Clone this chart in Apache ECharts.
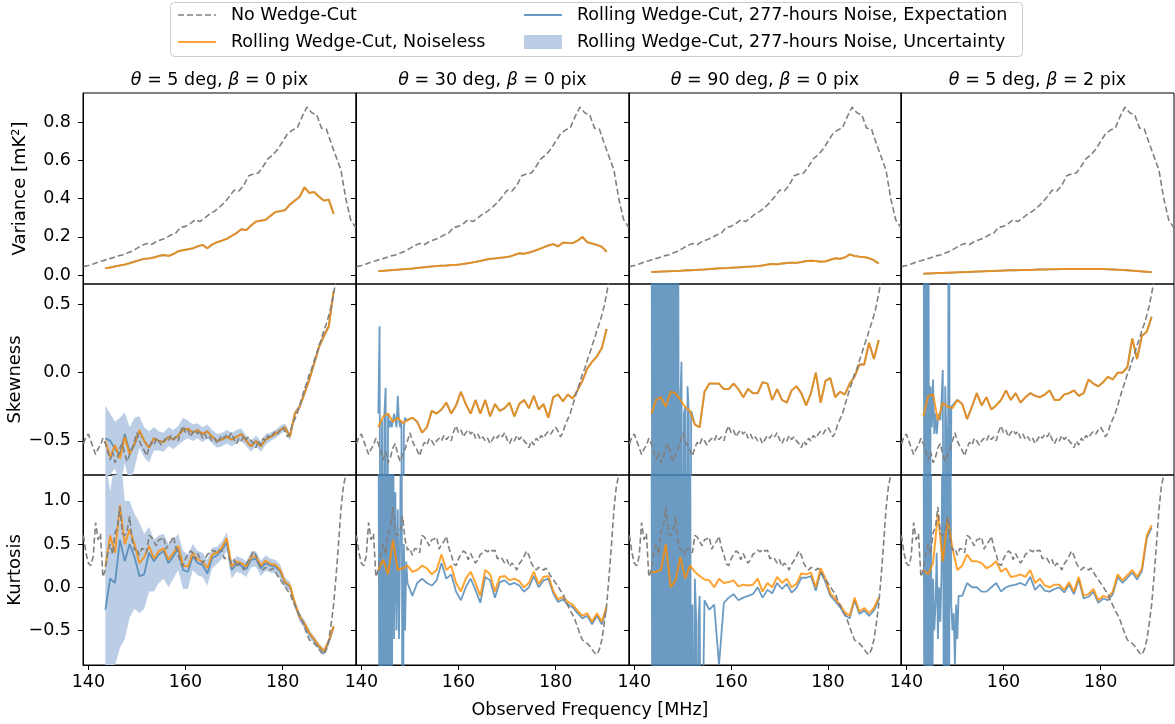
<!DOCTYPE html>
<html>
<head>
<meta charset="utf-8">
<script src="https://cdn.jsdelivr.net/npm/echarts@6.0.0/dist/echarts.min.js"></script>
<style>
  html, body { margin: 0; padding: 0; background: #fff; }
  #chart { width: 1175px; height: 724px; }
</style>
</head>
<body>
<div id="chart"></div>
<script>
// frequency grids [MHz]
const FREQ = [139,140,141,142,143,144,145,146,147,148,149,150,151,152,153,154,155,156,157,158,159,160,161,162,163,164,165,166,167,168,169,170,171,172,173,174,175,176,177,178,179,180,181,182,183,184,185,186,187,188,189,190,191,192,193,194,195];
const FREQ_HALF = [
  139,139.5,140,140.5,141,141.5,142,142.5,143,143.5,
  144,144.5,145,145.5,146,146.5,147,147.5,148,148.5,
  149,149.5,150,150.5,151,151.5,152,152.5,153,153.5,
  154,154.5,155,155.5,156,156.5,157,157.5,158,158.5,
  159,159.5,160,160.5,161,161.5,162,162.5,163,163.5,
  164,164.5,165,165.5,166,166.5,167,167.5,168,168.5,
  169,169.5,170,170.5,171,171.5,172,172.5,173,173.5,
  174,174.5,175,175.5,176,176.5,177,177.5,178,178.5,
  179,179.5,180,180.5,181,181.5,182,182.5,183,183.5,
  184,184.5,185,185.5,186,186.5,187,187.5,188,188.5,
  189,189.5,190,190.5,191,191.5,192,192.5,193,193.5,
  194,194.5,195];
const CUT_FREQ = [143.5,144.5,145.5,146.5,147.5,148.5,149.5,150.5,151.5,152.5,153.5,154.5,155.5,156.5,157.5,158.5,159.5,160.5,161.5,162.5,163.5,164.5,165.5,166.5,167.5,168.5,169.5,170.5,171.5,172.5,173.5,174.5,175.5,176.5,177.5,178.5,179.5,180.5,181.5,182.5,183.5,184.5,185.5,186.5,187.5,188.5,189.5,190.5];
const SPIKE_FREQ = [143.5,143.75,144,144.25,144.5,144.75,145,145.25,145.5,145.75,146,146.25,146.5,146.75,147,147.25,147.5,147.75,148,148.25,148.5,148.75,149,149.25,149.5,149.75,150,150.25,150.5,150.75,151,151.25,151.5,151.75,152,152.25,152.5,152.75,153,153.25,153.5,153.75];

// no wedge-cut (same in every column)
const VAR_NOCUT = [0.044,0.05,0.058,0.068,0.075,0.083,0.09,0.1,0.105,0.115,0.125,0.14,0.155,0.165,0.16,0.175,0.185,0.195,0.21,0.22,0.25,0.255,0.27,0.29,0.28,0.3,0.32,0.335,0.355,0.38,0.41,0.445,0.44,0.47,0.52,0.53,0.535,0.57,0.61,0.63,0.66,0.7,0.74,0.76,0.77,0.83,0.88,0.85,0.84,0.77,0.765,0.69,0.62,0.55,0.4,0.29,0.25];
const SKEW_NOCUT = [
  -0.52,-0.47,-0.45,-0.5,-0.55,-0.6,-0.56,-0.53,-0.48,-0.52,
  -0.58,-0.64,-0.58,-0.66,-0.62,-0.55,-0.52,-0.6,-0.65,-0.6,
  -0.56,-0.5,-0.44,-0.5,-0.54,-0.57,-0.61,-0.55,-0.51,-0.53,
  -0.48,-0.5,-0.53,-0.5,-0.48,-0.5,-0.46,-0.49,-0.47,-0.5,
  -0.43,-0.39,-0.44,-0.42,-0.47,-0.44,-0.42,-0.45,-0.43,-0.48,
  -0.45,-0.49,-0.47,-0.5,-0.48,-0.52,-0.49,-0.46,-0.48,-0.45,
  -0.47,-0.44,-0.49,-0.52,-0.48,-0.5,-0.46,-0.49,-0.47,-0.5,
  -0.52,-0.55,-0.5,-0.53,-0.48,-0.5,-0.46,-0.48,-0.45,-0.43,
  -0.45,-0.42,-0.4,-0.43,-0.47,-0.44,-0.38,-0.34,-0.3,-0.24,
  -0.18,-0.12,-0.07,-0.01,0.03,0.09,0.14,0.2,0.25,0.31,
  0.36,0.42,0.49,0.58,0.68,0.77,0.86,0.95,1.04,1.12,
  1.2,1.3,1.4];
const KURT_NOCUT = [
  0.6,0.4,0.28,0.25,0.36,0.75,0.55,0.62,0.12,0.2,
  0.4,0.5,0.38,0.63,0.7,0.93,0.62,0.6,0.66,0.82,
  0.55,0.43,0.45,0.37,0.45,0.44,0.4,0.6,0.58,0.53,
  0.48,0.55,0.56,0.58,0.44,0.5,0.53,0.59,0.46,0.38,
  0.27,0.25,0.33,0.38,0.42,0.4,0.32,0.39,0.33,0.28,
  0.32,0.38,0.4,0.43,0.41,0.44,0.42,0.43,0.33,0.35,
  0.33,0.28,0.32,0.24,0.28,0.25,0.2,0.27,0.31,0.36,
  0.42,0.37,0.28,0.23,0.2,0.23,0.22,0.2,0.22,0.18,
  0.13,0.09,0.05,0.01,-0.04,-0.07,-0.15,-0.21,-0.27,-0.32,
  -0.38,-0.46,-0.54,-0.61,-0.63,-0.65,-0.68,-0.72,-0.76,-0.78,
  -0.72,-0.61,-0.42,-0.2,0.13,0.5,0.9,1.17,1.3,1.45,
  1.6,1.75,1.9];

// rolling wedge-cut, noiseless (columns 1..4)
const VAR_ORANGE_1 = [0.035,0.04,0.045,0.05,0.055,0.062,0.07,0.078,0.085,0.087,0.092,0.1,0.105,0.1,0.11,0.125,0.13,0.135,0.14,0.15,0.158,0.14,0.16,0.172,0.18,0.19,0.205,0.22,0.24,0.235,0.26,0.28,0.285,0.29,0.31,0.33,0.335,0.34,0.37,0.39,0.41,0.46,0.43,0.435,0.41,0.39,0.395,0.32];
const VAR_ORANGE_2 = [0.02,0.022,0.024,0.026,0.028,0.03,0.032,0.034,0.037,0.04,0.042,0.045,0.047,0.049,0.05,0.052,0.053,0.056,0.06,0.064,0.069,0.074,0.08,0.085,0.087,0.09,0.093,0.097,0.105,0.114,0.112,0.118,0.125,0.135,0.145,0.155,0.162,0.15,0.17,0.168,0.167,0.18,0.2,0.172,0.165,0.158,0.148,0.122];
const VAR_ORANGE_3 = [0.016,0.017,0.018,0.019,0.02,0.021,0.022,0.024,0.025,0.026,0.028,0.029,0.031,0.033,0.035,0.036,0.037,0.039,0.04,0.042,0.044,0.045,0.047,0.05,0.055,0.058,0.056,0.06,0.063,0.065,0.064,0.068,0.073,0.075,0.073,0.07,0.072,0.08,0.088,0.085,0.092,0.108,0.1,0.096,0.094,0.088,0.078,0.06];
const VAR_ORANGE_4 = [0.007,0.008,0.009,0.01,0.011,0.012,0.013,0.014,0.015,0.016,0.017,0.018,0.019,0.02,0.021,0.022,0.023,0.024,0.025,0.025,0.026,0.027,0.027,0.028,0.029,0.029,0.03,0.03,0.031,0.031,0.031,0.032,0.032,0.032,0.032,0.032,0.032,0.031,0.03,0.029,0.028,0.027,0.025,0.023,0.021,0.019,0.017,0.015];

const SKEW_ORANGE_1 = [-0.5,-0.62,-0.53,-0.63,-0.47,-0.6,-0.52,-0.42,-0.5,-0.55,-0.48,-0.5,-0.51,-0.47,-0.49,-0.46,-0.42,-0.41,-0.44,-0.42,-0.45,-0.43,-0.47,-0.5,-0.49,-0.47,-0.49,-0.47,-0.45,-0.5,-0.54,-0.5,-0.54,-0.49,-0.47,-0.45,-0.42,-0.4,-0.47,-0.3,-0.25,-0.15,-0.05,0.07,0.19,0.27,0.34,0.6];
const SKEW_ORANGE_2 = [-0.4,-0.32,-0.3,-0.36,-0.33,-0.37,-0.35,-0.33,-0.36,-0.44,-0.4,-0.28,-0.3,-0.27,-0.22,-0.3,-0.24,-0.14,-0.23,-0.3,-0.2,-0.3,-0.2,-0.32,-0.23,-0.28,-0.26,-0.22,-0.32,-0.23,-0.2,-0.26,-0.17,-0.27,-0.23,-0.33,-0.18,-0.16,-0.21,-0.16,-0.19,-0.13,-0.06,0.03,0.08,0.12,0.18,0.32];
const SKEW_ORANGE_3 = [-0.3,-0.2,-0.18,-0.25,-0.14,-0.15,-0.2,-0.25,-0.28,-0.38,-0.4,-0.14,-0.08,-0.08,-0.08,-0.12,-0.12,-0.08,-0.12,-0.18,-0.12,-0.15,-0.15,-0.07,-0.08,-0.2,-0.12,-0.2,-0.22,-0.13,-0.1,-0.15,-0.24,-0.15,0.0,-0.22,-0.06,-0.04,-0.18,-0.14,-0.16,-0.08,-0.03,0.06,0.06,0.22,0.1,0.24];
const SKEW_ORANGE_4 = [-0.32,-0.17,-0.16,-0.35,-0.22,-0.25,-0.26,-0.2,-0.23,-0.34,-0.25,-0.15,-0.24,-0.18,-0.27,-0.24,-0.2,-0.13,-0.2,-0.15,-0.22,-0.18,-0.15,-0.17,-0.18,-0.16,-0.13,-0.2,-0.2,-0.16,-0.15,-0.13,-0.17,-0.15,-0.05,-0.08,-0.1,-0.07,-0.03,-0.05,0.0,0.0,0.04,0.25,0.1,0.27,0.3,0.41];

const KURT_ORANGE_1 = [0.24,0.6,0.4,0.95,0.5,0.67,0.5,0.28,0.35,0.48,0.33,0.42,0.45,0.32,0.4,0.48,0.25,0.24,0.4,0.32,0.3,0.22,0.38,0.4,0.46,0.57,0.24,0.3,0.28,0.24,0.35,0.36,0.25,0.31,0.27,0.26,0.2,0.06,0.02,-0.18,-0.34,-0.42,-0.53,-0.6,-0.68,-0.74,-0.62,-0.45];
const KURT_ORANGE_2 = [0.2,0.32,0.15,0.55,0.2,0.22,0.25,0.18,0.2,0.25,0.22,0.15,0.2,0.38,0.2,0.25,0.05,-0.05,0.1,0.18,0.05,-0.1,0.2,0.15,-0.05,0.12,0.13,0.08,0.1,0.07,0.0,0.05,0.18,0.04,0.12,0.13,-0.04,-0.14,-0.11,-0.17,-0.2,-0.27,-0.33,-0.3,-0.4,-0.3,-0.4,-0.22];
const KURT_ORANGE_3 = [0.17,0.18,0.2,0.5,0.0,0.08,0.35,0.1,0.25,0.18,0.13,0.09,0.08,0.0,0.1,0.05,0.06,0.08,0.01,0.03,0.02,0.03,0.1,-0.05,0.05,0.0,0.12,0.05,0.1,0.0,0.04,0.16,0.15,0.17,0.0,0.22,0.1,-0.07,-0.13,-0.2,-0.29,-0.33,-0.12,-0.28,-0.24,-0.3,-0.24,-0.12];
const KURT_ORANGE_4 = [0.2,0.15,0.28,0.85,0.3,0.8,0.45,0.2,0.25,0.38,0.3,0.3,0.28,0.22,0.25,0.3,0.18,0.22,0.12,0.13,0.15,0.12,0.2,0.05,0.1,0.02,0.0,0.03,0.03,-0.03,0.06,-0.05,0.12,-0.1,-0.08,-0.02,-0.15,-0.1,-0.12,-0.05,0.15,0.08,0.14,0.2,0.12,0.22,0.6,0.72];

// 277-hours noise, expectation: off-scale spikes on SPIKE_FREQ, then values on CUT_FREQ (right-aligned)
const SKEW_BLUE_1 = [-0.48,-0.5,-0.56,-0.6,-0.45,-0.58,-0.53,-0.43,-0.5,-0.55,-0.48,-0.5,-0.51,-0.47,-0.49,-0.46,-0.42,-0.41,-0.44,-0.42,-0.45,-0.43,-0.47,-0.5,-0.49,-0.47,-0.49,-0.47,-0.45,-0.5,-0.54,-0.5,-0.54,-0.49,-0.47,-0.45,-0.42,-0.4,-0.47,-0.3,-0.25,-0.15,-0.05,0.07,0.19,0.27,0.34,0.6];
const SKEW_SPIKES_2 = [-0.3,0.34,-3,-0.35,-3,-0.3,-0.11,-3,-0.3,-0.4,-0.35,-0.4,-0.35,-0.3,-0.35,-0.4,-0.17,-0.35,-0.4,-0.35,-3,-0.4,-0.33,-0.35];
const SKEW_SPIKES_3 = [3,-3,3,-3,3,-3,3,-3,3,-3,3,-3,3,-3,3,-3,3,-3,3,-3,3,-3,3,-3,-0.2,0.08,-3,-0.3,-0.25,-3,-0.1,-0.3,-3,-0.28];
const SKEW_SPIKES_4 = [3,-3,3,-3,3,-3,-0.1,-0.4,-0.05,-0.45,-0.3,-0.45,-0.35,-0.3,-0.35,-0.2,0.02,-3,-0.1,-0.45,-3,3,-3,-0.25];

const KURT_BLUE_1 = [-0.26,0.1,0.05,0.55,0.3,0.5,0.35,0.13,0.15,0.4,0.3,0.38,0.42,0.28,0.36,0.45,0.2,0.18,0.36,0.28,0.26,0.16,0.34,0.37,0.43,0.52,0.2,0.27,0.25,0.21,0.32,0.33,0.22,0.28,0.25,0.24,0.18,0.05,0.01,-0.19,-0.35,-0.43,-0.54,-0.61,-0.69,-0.75,-0.63,-0.46];
const KURT_SPIKES_2 = [3,-3,3,-3,3,-3,3,-3,3,-3,3,-3,3,-0.6,1.1,-0.5,0.9,-0.6,0.7,3,-3,0.5,-0.5,0.3];
const KURT_BLUE_2 = [0.05,-0.1,0.05,0.1,0.05,0.02,0.08,0.28,0.1,0.15,-0.05,-0.15,0.0,0.1,-0.03,-0.18,0.12,0.08,-0.12,0.06,0.08,0.03,0.05,0.02,-0.05,0.0,0.13,0.0,0.08,0.1,-0.07,-0.17,-0.14,-0.2,-0.23,-0.3,-0.36,-0.33,-0.43,-0.33,-0.43,-0.25];
const KURT_SPIKES_3 = [3,-3,3,-3,3,-3,3,-3,3,-3,3,-3,3,-3,3,-3,3,-3,3,-3,3,-3,3,-3,3,-3,3,-3,3,-3,3,-3,3,-3,-0.2,-3,0.1,-0.3,-3,-0.4,-0.1,-3];
const KURT_BLUE_3 = [-0.15,-0.26,-0.2,-0.9,-0.18,-0.12,-0.08,-0.15,-0.12,-0.1,-0.08,0.0,-0.12,-0.03,-0.07,0.05,-0.02,0.04,-0.06,-0.01,0.11,0.11,0.13,-0.04,0.18,0.06,-0.1,-0.16,-0.23,-0.32,-0.36,-0.15,-0.31,-0.27,-0.33,-0.27,-0.15];
const KURT_SPIKES_4 = [3,-3,3,-3,3,-3,3,-3,0.1,-0.5,-0.2,0.4,-0.6,0.0,-0.4,0.2,3,-3,3,-3,3,-3,3,-0.2,-0.5,-0.3,-0.9,-0.2,-0.6,-0.1];
const KURT_BLUE_4 = [-0.1,0.05,0.0,0.0,-0.05,-0.05,0.0,0.05,-0.05,0.0,0.02,0.03,0.05,0.02,0.12,-0.03,0.03,-0.04,-0.05,-0.02,0.0,-0.06,0.03,-0.08,0.09,-0.13,-0.11,-0.05,-0.18,-0.13,-0.15,-0.08,0.12,0.05,0.11,0.17,0.09,0.19,0.57,0.69];

// 277-hours noise, uncertainty (first column only)
const SKEW_BAND_HI = [-0.24,-0.3,-0.36,-0.33,-0.29,-0.4,-0.33,-0.32,-0.4,-0.43,-0.4,-0.43,-0.44,-0.4,-0.42,-0.39,-0.33,-0.35,-0.38,-0.37,-0.4,-0.38,-0.42,-0.45,-0.44,-0.42,-0.44,-0.42,-0.41,-0.46,-0.5,-0.46,-0.5,-0.45,-0.44,-0.42,-0.39,-0.37,-0.44,-0.28,-0.23,-0.13,-0.03,0.09,0.21,0.29,0.36,0.62];
const SKEW_BAND_LO = [-0.8,-0.75,-0.7,-0.85,-0.66,-0.82,-0.7,-0.55,-0.62,-0.66,-0.57,-0.57,-0.58,-0.54,-0.56,-0.53,-0.5,-0.48,-0.5,-0.48,-0.51,-0.48,-0.52,-0.55,-0.54,-0.52,-0.54,-0.52,-0.5,-0.54,-0.58,-0.54,-0.58,-0.53,-0.5,-0.48,-0.45,-0.43,-0.5,-0.32,-0.27,-0.17,-0.07,0.05,0.17,0.25,0.32,0.58];
const KURT_BAND_HI = [1.5,1.1,1.5,1.6,1.0,1.0,0.85,0.75,0.62,0.7,0.55,0.6,0.62,0.5,0.55,0.62,0.42,0.38,0.5,0.42,0.4,0.32,0.46,0.47,0.53,0.64,0.3,0.36,0.34,0.3,0.41,0.42,0.31,0.37,0.33,0.32,0.26,0.11,0.06,-0.14,-0.3,-0.38,-0.49,-0.57,-0.65,-0.71,-0.59,-0.42];
const KURT_BAND_LO = [-1.5,-1.2,-0.9,-0.7,-0.6,-0.35,-0.25,-0.3,-0.25,-0.05,-0.05,0.05,0.1,0.0,0.1,0.2,-0.02,-0.02,0.2,0.14,0.12,0.02,0.22,0.27,0.33,0.42,0.1,0.18,0.16,0.12,0.23,0.24,0.13,0.19,0.17,0.16,0.1,-0.01,-0.04,-0.24,-0.4,-0.48,-0.59,-0.65,-0.73,-0.79,-0.67,-0.5];

const PANEL_TITLES = [['5', '0'], ['30', '0'], ['90', '0'], ['5', '2']];
const ROW_LABELS = ['Variance [mK²]', 'Skewness', 'Kurtosis'];
const Y_TICKS = [[0, 0.2, 0.4, 0.6, 0.8], [-0.5, 0, 0.5], [-0.5, 0, 0.5, 1.0]];
const X_TICKS = [140, 160, 180];

const NAME_NOCUT = 'No Wedge-Cut';
const NAME_CLEAN = 'Rolling Wedge-Cut, Noiseless';
const NAME_EXP = 'Rolling Wedge-Cut, 277-hours Noise, Expectation';
const NAME_UNC = 'Rolling Wedge-Cut, 277-hours Noise, Uncertainty';

const GREY = '#808080';
const ORANGE = 'rgba(255,140,0,0.8)';
const BLUE = 'rgba(70,130,180,0.8)';
const BAND = '#bccee5';
const FONT = 'DejaVu Sans';
const FS = 17.5;

const COL_EDGES = [83, 356, 629, 901, 1174];
const ROW_EDGES = [93, 284, 475, 665];
const Y_RANGE = [[-0.047, 0.954], [-0.75, 0.65], [-0.9, 1.3]];

const nocut = [[FREQ, VAR_NOCUT], [FREQ_HALF, SKEW_NOCUT], [FREQ_HALF, KURT_NOCUT]];
const orange = [
  [VAR_ORANGE_1, VAR_ORANGE_2, VAR_ORANGE_3, VAR_ORANGE_4],
  [SKEW_ORANGE_1, SKEW_ORANGE_2, SKEW_ORANGE_3, SKEW_ORANGE_4],
  [KURT_ORANGE_1, KURT_ORANGE_2, KURT_ORANGE_3, KURT_ORANGE_4]
];
const blue = [
  [[[], VAR_ORANGE_1], [[], VAR_ORANGE_2], [[], VAR_ORANGE_3], [[], VAR_ORANGE_4]],
  [[[], SKEW_BLUE_1], [SKEW_SPIKES_2, SKEW_ORANGE_2], [SKEW_SPIKES_3, SKEW_ORANGE_3], [SKEW_SPIKES_4, SKEW_ORANGE_4]],
  [[[], KURT_BLUE_1], [KURT_SPIKES_2, KURT_BLUE_2], [KURT_SPIKES_3, KURT_BLUE_3], [KURT_SPIKES_4, KURT_BLUE_4]]
];
const bands = [null, [SKEW_BAND_LO, SKEW_BAND_HI], [KURT_BAND_LO, KURT_BAND_HI]];

function pairs(xs, ys) {
  const off = xs.length - ys.length;
  return ys.map((y, i) => [xs[off + i], y]);
}
function blueData(spikes, regular) {
  const last = spikes.length ? SPIKE_FREQ[spikes.length - 1] : -Infinity;
  const head = spikes.map((v, i) => [SPIKE_FREQ[i], v]);
  return head.concat(pairs(CUT_FREQ, regular).filter(p => p[0] > last));
}
function fmtY(v) {
  return (v < 0 ? '\u2212' : '') + Math.abs(v).toFixed(1);
}
// filled band between lo and hi, drawn once as one polygon through the axis scales
function bandRenderer(lo, hi) {
  return function (params, api) {
    if (params.dataIndex !== 0) return;
    const pts = [];
    for (let i = 0; i < CUT_FREQ.length; i++) pts.push(api.coord([CUT_FREQ[i], hi[i]]));
    for (let i = CUT_FREQ.length - 1; i >= 0; i--) pts.push(api.coord([CUT_FREQ[i], lo[i]]));
    const cs = params.coordSys;
    return {
      type: 'polygon', shape: { points: pts }, style: { fill: BAND },
      clipPath: { type: 'rect', shape: { x: cs.x, y: cs.y, width: cs.width, height: cs.height } }
    };
  };
}

let myChart = echarts.init(document.getElementById('chart'));
let grids = [], xAxes = [], yAxes = [], series = [], graphics = [];

for (let r = 0; r < 3; r++) {
  for (let c = 0; c < 4; c++) {
    const gi = r * 4 + c;
    grids.push({
      left: COL_EDGES[c], top: ROW_EDGES[r],
      width: COL_EDGES[c + 1] - COL_EDGES[c], height: ROW_EDGES[r + 1] - ROW_EDGES[r],
      show: true, borderColor: '#000', borderWidth: 1, backgroundColor: 'transparent'
    });
    xAxes.push({
      type: 'value', gridIndex: gi, min: 138.9, max: 195.1,
      show: r === 2,
      axisLine: { show: true, onZero: false, lineStyle: { color: '#000' } },
      axisTick: { show: true, length: 5, customValues: X_TICKS, lineStyle: { color: '#000' } },
      axisLabel: { show: true, customValues: X_TICKS, margin: 8, fontSize: FS, fontFamily: FONT, color: '#000' },
      splitLine: { show: false }
    });
    yAxes.push({
      type: 'value', gridIndex: gi, min: Y_RANGE[r][0], max: Y_RANGE[r][1],
      name: c === 0 ? ROW_LABELS[r] : '',
      nameLocation: 'middle', nameGap: 54, nameRotate: 90,
      nameTextStyle: { fontSize: 18, fontFamily: FONT, color: '#000' },
      axisLine: { show: true, onZero: false, lineStyle: { color: '#000' } },
      axisTick: { show: true, length: 5, customValues: Y_TICKS[r], lineStyle: { color: '#000' } },
      axisLabel: {
        show: c === 0, customValues: Y_TICKS[r], formatter: fmtY, margin: 12,
        align: 'right', verticalAlign: 'middle',
        fontSize: FS, fontFamily: FONT, color: '#000'
      },
      splitLine: { show: false }
    });

    if (c === 0 && bands[r]) {
      const lo = bands[r][0], hi = bands[r][1];
      series.push({
        type: 'custom', name: NAME_UNC, xAxisIndex: gi, yAxisIndex: gi,
        data: CUT_FREQ.map((f, i) => [f, lo[i], hi[i]]),
        encode: { x: 0, y: [1, 2] },
        renderItem: bandRenderer(lo, hi), silent: true, z: 1
      });
    }
    series.push({
      type: 'line', name: NAME_EXP, xAxisIndex: gi, yAxisIndex: gi,
      data: blueData(blue[r][c][0], blue[r][c][1]),
      symbol: 'none', silent: true, lineStyle: { color: BLUE, width: 1.8 }, z: 2
    });
    series.push({
      type: 'line', name: NAME_CLEAN, xAxisIndex: gi, yAxisIndex: gi,
      data: pairs(CUT_FREQ, orange[r][c]),
      symbol: 'none', silent: true, lineStyle: { color: ORANGE, width: 2 }, z: 3
    });
    series.push({
      type: 'line', name: NAME_NOCUT, xAxisIndex: gi, yAxisIndex: gi,
      data: pairs(nocut[r][0], nocut[r][1]),
      symbol: 'none', silent: true, lineStyle: { color: GREY, width: 1.6, type: [6, 3] }, z: 4
    });
  }
}

// panel titles
PANEL_TITLES.forEach((t, c) => {
  graphics.push({
    type: 'text', x: (COL_EDGES[c] + COL_EDGES[c + 1]) / 2, y: 80,
    style: {
      text: '{i|θ}{n| = ' + t[0] + ' deg, }{i|β}{n| = ' + t[1] + ' pix}',
      rich: {
        i: { fontStyle: 'italic', fontSize: FS, fontFamily: FONT, fill: '#000' },
        n: { fontSize: FS, fontFamily: FONT, fill: '#000' }
      },
      align: 'center', verticalAlign: 'middle', fill: '#000'
    }
  });
});
graphics.push({
  type: 'text', x: 590, y: 710,
  style: { text: 'Observed Frequency [MHz]', fontSize: FS, fontFamily: FONT, fill: '#000', align: 'center', verticalAlign: 'middle' }
});

// legend box, drawn by hand
graphics.push({
  type: 'rect', shape: { x: 170.5, y: 2.5, width: 852, height: 54, r: 4 },
  style: { fill: '#fff', stroke: '#cccccc', lineWidth: 1 }, z: -1
});
const legendItems = [
  { x: 178, y: 15, name: NAME_NOCUT, kind: 'dash', color: GREY },
  { x: 178, y: 42, name: NAME_CLEAN, kind: 'line', color: ORANGE },
  { x: 524, y: 15, name: NAME_EXP, kind: 'line', color: BLUE },
  { x: 524, y: 42, name: NAME_UNC, kind: 'rect', color: BAND }
];
legendItems.forEach(it => {
  if (it.kind === 'rect') {
    graphics.push({ type: 'rect', shape: { x: it.x, y: it.y - 7, width: 38, height: 14 }, style: { fill: it.color } });
  } else {
    graphics.push({
      type: 'line', shape: { x1: it.x, y1: it.y, x2: it.x + 38, y2: it.y },
      style: { stroke: it.color, lineWidth: it.kind === 'dash' ? 1.6 : 2, lineDash: it.kind === 'dash' ? [6, 3] : null }
    });
  }
  graphics.push({
    type: 'text', x: it.x + 53, y: it.y,
    style: { text: it.name, fontSize: FS, fontFamily: FONT, fill: '#000', align: 'left', verticalAlign: 'middle' }
  });
});

let option = {
  animation: false,
  backgroundColor: '#fff',
  grid: grids,
  xAxis: xAxes,
  yAxis: yAxes,
  graphic: graphics,
  series: series
};
myChart.setOption(option);
</script>
</body>
</html>
